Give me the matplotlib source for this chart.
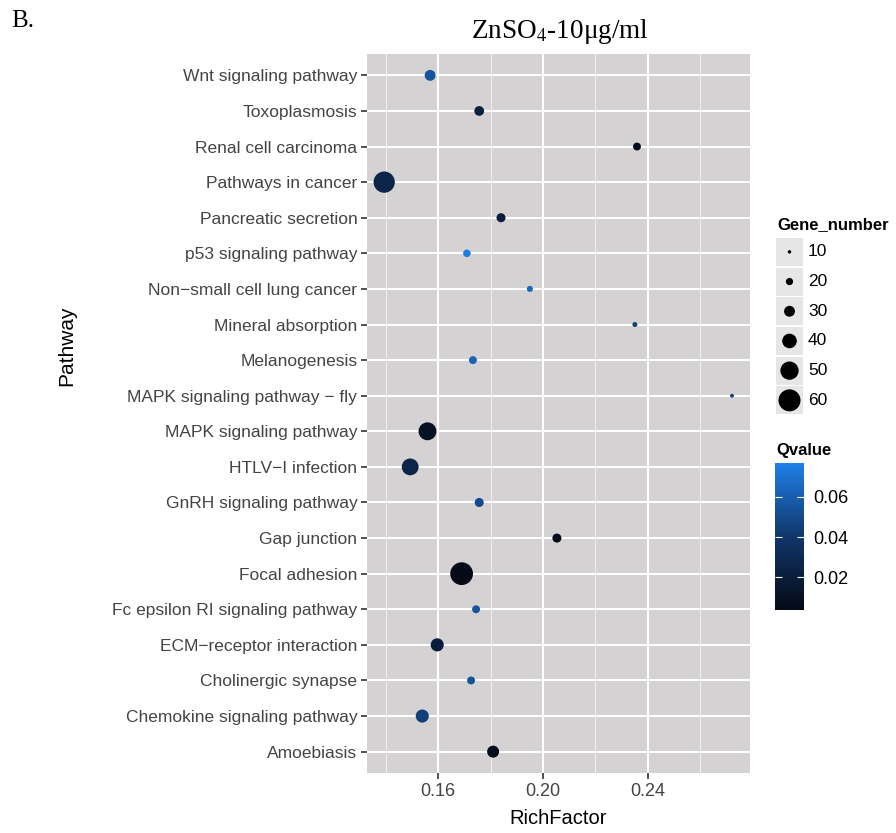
import matplotlib
matplotlib.use('Agg')
import matplotlib.pyplot as plt
import numpy as np
from matplotlib.colors import LinearSegmentedColormap, Normalize
from matplotlib.colorbar import ColorbarBase
from matplotlib.patches import Rectangle

# pathways listed top -> bottom as shown on the y axis
pathways = [
    'Wnt signaling pathway', 'Toxoplasmosis', 'Renal cell carcinoma',
    'Pathways in cancer', 'Pancreatic secretion', 'p53 signaling pathway',
    'Non\u2212small cell lung cancer', 'Mineral absorption', 'Melanogenesis',
    'MAPK signaling pathway \u2212 fly', 'MAPK signaling pathway',
    'HTLV\u2212I infection', 'GnRH signaling pathway', 'Gap junction',
    'Focal adhesion', 'Fc epsilon RI signaling pathway',
    'ECM\u2212receptor interaction', 'Cholinergic synapse',
    'Chemokine signaling pathway', 'Amoebiasis',
]
rich_factor = [0.157, 0.1757, 0.2358, 0.1395, 0.184, 0.171, 0.195, 0.235, 0.1733,
               0.272, 0.156, 0.1494, 0.1757, 0.2053, 0.169, 0.1745, 0.1597, 0.1726,
               0.154, 0.181]
gene_number = [30, 27, 22, 58, 25, 21, 17, 14, 22, 11, 49, 46, 25, 25, 62, 22, 36, 22,
               36, 33]
q_value = [0.055, 0.022, 0.008, 0.025, 0.02, 0.075, 0.065, 0.045, 0.062, 0.045,
           0.01, 0.025, 0.05, 0.005, 0.003, 0.055, 0.02, 0.055, 0.045, 0.006]

legend_sizes = [10, 20, 30, 40, 50, 60]
x_ticks = [0.16, 0.20, 0.24]
x_minor = [0.14, 0.18, 0.22, 0.26]
cbar_ticks = [0.02, 0.04, 0.06]
q_min, q_max = 0.0035, 0.077

W, H = 896, 833
SANS = ['Liberation Sans', 'DejaVu Sans']
SERIF = ['Liberation Serif', 'DejaVu Serif']
plt.rcParams['font.family'] = SANS
plt.rcParams['mathtext.fontset'] = 'stix'

cmap = LinearSegmentedColormap.from_list('q', ['#050a16', '#10366a', '#1f80e8'])
norm = Normalize(vmin=q_min, vmax=q_max)


def marker_area(n):
    d_px = 3.5 + (np.asarray(n, dtype=float) - 10) * 0.37
    return (d_px * 72 / 100) ** 2


fig = plt.figure(figsize=(W / 100, H / 100), dpi=100)
fig.patch.set_facecolor('white')


def fx(px):
    return px / W


def fy(py):
    return 1 - py / H


# ---- main panel ----
ax = fig.add_axes([fx(367), fy(773), (750 - 367) / W, (773 - 54) / H])
ax.set_facecolor('#d5d2d3')
ypos = np.arange(len(pathways))
ax.scatter(rich_factor, ypos, s=marker_area(gene_number), c=q_value, cmap=cmap,
           norm=norm, linewidths=0, zorder=3)
ax.set_xlim(0.13295, 0.27886)
ax.set_ylim(len(pathways) - 1 + 0.6, -0.6)
ax.set_xticks(x_ticks)
ax.set_xticklabels(['%.2f' % t for t in x_ticks])
ax.set_xticks(x_minor, minor=True)
ax.set_yticks(ypos)
ax.set_yticklabels(pathways)
ax.grid(True, which='major', color='white', linewidth=1.5, zorder=1)
ax.grid(True, which='minor', axis='x', color='white', linewidth=0.6, alpha=0.8, zorder=1)
ax.set_axisbelow(True)
for sp in ax.spines.values():
    sp.set_visible(False)
ax.tick_params(axis='both', which='major', length=4, width=1.2, color='#333333',
               labelcolor='#444444', pad=3)
ax.tick_params(axis='y', labelsize=12.5)
ax.tick_params(axis='x', labelsize=13)
ax.tick_params(axis='x', which='minor', length=0)

fig.text(fx(67), fy(346), 'Pathway', rotation=90, ha='center', va='center',
         fontsize=15, color='black')
fig.text(fx(558), fy(819), 'RichFactor', ha='center', va='center',
         fontsize=14.5, color='black')
fig.text(fx(560), fy(31), 'ZnSO$_4$-10\u03bcg/ml', ha='center', va='center',
         fontsize=19.5, family=SERIF)
fig.text(fx(11), fy(21), 'B.', ha='left', va='center', fontsize=18, family=SERIF)

# ---- size legend ----
fig.text(fx(777), fy(225), 'Gene_number', ha='left', va='center',
         fontsize=12, fontweight='bold')
row_h = 29.7
lax = fig.add_axes([fx(776), fy(237 + row_h * 6), 27 / W, row_h * 6 / H])
lax.set_xlim(0, 1)
lax.set_ylim(len(legend_sizes), 0)
lax.axis('off')
for i, n in enumerate(legend_sizes):
    lax.add_patch(Rectangle((0, i + 0.03), 1, 0.94, facecolor='#e6e6e6',
                            edgecolor='none'))
    fig.text(fx(808), fy(237 + row_h * (i + 0.5)), str(n), ha='left',
             va='center', fontsize=12.5)
lax.scatter(np.full(len(legend_sizes), 0.5), np.arange(len(legend_sizes)) + 0.5,
            s=marker_area(legend_sizes), color='black', linewidths=0, clip_on=False)

# ---- colour bar ----
fig.text(fx(776), fy(450), 'Qvalue', ha='left', va='center',
         fontsize=12, fontweight='bold')
cax = fig.add_axes([fx(775), fy(610), 29 / W, 147 / H])
cb = ColorbarBase(cax, cmap=cmap, norm=norm, ticks=cbar_ticks)
cb.outline.set_visible(False)
cb.set_ticklabels(['%.2f' % t for t in cbar_ticks])
cax.yaxis.set_ticks_position('both')
cax.tick_params(direction='in', length=5, width=0.8, color='white', labelsize=13,
                labelcolor='black', pad=7, labelleft=False, labelright=True)

fig.savefig('out.png', dpi=100, facecolor='white')
